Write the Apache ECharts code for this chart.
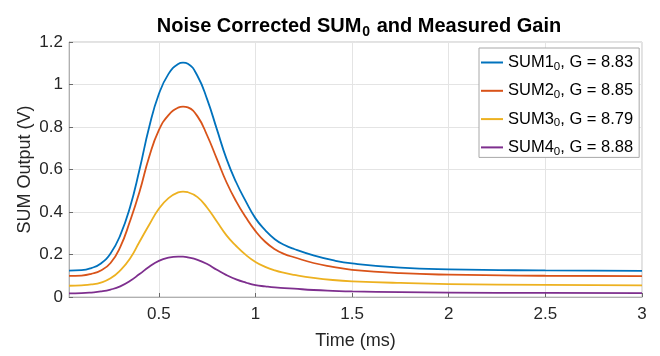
<!DOCTYPE html>
<html>
<head>
<meta charset="utf-8">
<script src="https://cdn.jsdelivr.net/npm/echarts@6/dist/echarts.min.js"></script>
<style>
html,body{margin:0;padding:0;background:#fff;}
#c{width:660px;height:356px;}
</style>
</head>
<body>
<div id="c"></div>
<script>
// ---- data ----
var times = [0.035, 0.10, 0.15, 0.20, 0.25, 0.30, 0.35, 0.40, 0.45, 0.50, 0.55, 0.60, 0.625, 0.65, 0.70, 0.75, 0.80, 0.85, 0.90, 0.95, 1.00, 1.05, 1.10, 1.15, 1.20, 1.30, 1.40, 1.50, 1.75, 2.00, 2.50, 3.00];
var sum1 = [0.124, 0.126, 0.136, 0.158, 0.205, 0.29, 0.42, 0.60, 0.80, 0.955, 1.05, 1.097, 1.103, 1.098, 1.04, 0.93, 0.79, 0.65, 0.54, 0.45, 0.37, 0.315, 0.272, 0.245, 0.226, 0.196, 0.173, 0.158, 0.138, 0.130, 0.125, 0.123];
var sum2 = [0.099, 0.101, 0.109, 0.125, 0.16, 0.235, 0.355, 0.495, 0.66, 0.785, 0.856, 0.891, 0.896, 0.892, 0.85, 0.76, 0.65, 0.54, 0.45, 0.375, 0.31, 0.26, 0.225, 0.202, 0.187, 0.16, 0.142, 0.128, 0.112, 0.105, 0.100, 0.098];
var sum3 = [0.053, 0.055, 0.059, 0.068, 0.088, 0.125, 0.18, 0.26, 0.34, 0.415, 0.465, 0.492, 0.496, 0.493, 0.47, 0.42, 0.355, 0.29, 0.24, 0.198, 0.165, 0.142, 0.125, 0.113, 0.104, 0.09, 0.08, 0.074, 0.066, 0.061, 0.057, 0.055];
var sum4 = [0.017, 0.018, 0.021, 0.026, 0.035, 0.05, 0.075, 0.108, 0.142, 0.170, 0.185, 0.19, 0.19, 0.187, 0.175, 0.155, 0.128, 0.103, 0.083, 0.068, 0.056, 0.05, 0.045, 0.042, 0.039, 0.033, 0.029, 0.026, 0.023, 0.021, 0.019, 0.018];
var seriesNames = ['SUM1', 'SUM2', 'SUM3', 'SUM4'];
var gains = ['8.83', '8.85', '8.79', '8.88'];
var xTicks = [0.5, 1, 1.5, 2, 2.5, 3];
var colors = ['#0072BD', '#D95319', '#EDB120', '#7E2F8E'];

function pairs(vals) {
  return times.map(function (t, i) { return [t, vals[i]]; });
}
var allVals = [sum1, sum2, sum3, sum4];
var FONT = 'Liberation Sans, Arial, Helvetica, sans-serif';

var chart = echarts.init(document.getElementById('c'), null, {renderer: 'canvas'});
chart.setOption({
  animation: false,
  backgroundColor: '#ffffff',
  title: {
    text: '{t|Noise Corrected SUM}{s|0}{t| and Measured Gain}',
    left: 354,
    textAlign: 'center',
    top: 9,
    textStyle: {
      rich: {
        t: {fontFamily: FONT, fontWeight: 'bold', fontSize: 20, color: '#000', lineHeight: 25, verticalAlign: 'middle'},
        s: {fontFamily: FONT, fontWeight: 'bold', fontSize: 14, color: '#000', lineHeight: 25, verticalAlign: 'bottom', padding: [0, 1, 0, 1]}
      }
    }
  },
  grid: {
    left: 69, right: 18, top: 42, bottom: 59,
    show: true, borderColor: '#c4c4c4', borderWidth: 1, backgroundColor: '#fff'
  },
  legend: {
    orient: 'vertical',
    left: 479,
    top: 48,
    width: 161,
    padding: [6, 6, 0, 2],
    itemGap: 9.8,
    itemWidth: 22,
    itemHeight: 10,
    backgroundColor: '#fff',
    borderColor: '#a8a8a8',
    borderWidth: 1,
    borderRadius: 0,
    icon: 'path://M0,4 L22,4 L22,6 L0,6 Z',
    data: seriesNames,
    formatter: function (name) {
      var i = seriesNames.indexOf(name);
      return '{n|' + name + '}{s|0}{n|, G = ' + gains[i] + '}';
    },
    textStyle: {
      rich: {
        n: {fontFamily: FONT, fontSize: 16.5, color: '#000', lineHeight: 20, verticalAlign: 'middle'},
        s: {fontFamily: FONT, fontSize: 11.5, color: '#000', lineHeight: 20, verticalAlign: 'bottom'}
      }
    }
  },
  xAxis: {
    type: 'value',
    min: times[0],
    max: 3,
    name: 'Time (ms)',
    nameLocation: 'middle',
    nameGap: 35,
    nameMoveOverlap: false,
    nameTextStyle: {fontFamily: FONT, fontSize: 18, color: '#262626'},
    axisLine: {show: true, onZero: false, lineStyle: {color: '#b0b0b0'}},
    axisTick: {show: true, inside: true, length: 4, customValues: xTicks, lineStyle: {color: '#6a6a6a'}},
    axisLabel: {customValues: xTicks, fontFamily: FONT, fontSize: 17, color: '#262626', margin: 9},
    splitLine: {show: true, lineStyle: {color: '#e4e4e4', width: 1}}
  },
  yAxis: {
    type: 'value',
    min: 0,
    max: 1.2,
    interval: 0.2,
    name: 'SUM Output (V)',
    nameLocation: 'middle',
    nameGap: 35,
    nameMoveOverlap: false,
    nameTextStyle: {fontFamily: FONT, fontSize: 18, color: '#262626'},
    axisLine: {show: true, lineStyle: {color: '#b0b0b0'}},
    axisTick: {show: true, inside: true, length: 4, lineStyle: {color: '#6a6a6a'}},
    axisLabel: {fontFamily: FONT, fontSize: 17, color: '#262626', margin: 6,
      formatter: function (v) { return String(Math.round(v * 10) / 10); }},
    splitLine: {show: true, lineStyle: {color: '#e4e4e4', width: 1}}
  },
  series: seriesNames.map(function (n, i) {
    return {
      name: n,
      type: 'line',
      data: pairs(allVals[i]),
      showSymbol: false,
      symbol: 'none',
      smooth: 0.5,
      lineStyle: {color: colors[i], width: 1.8},
      itemStyle: {color: colors[i]},
      clip: true
    };
  })
});
</script>
</body>
</html>
